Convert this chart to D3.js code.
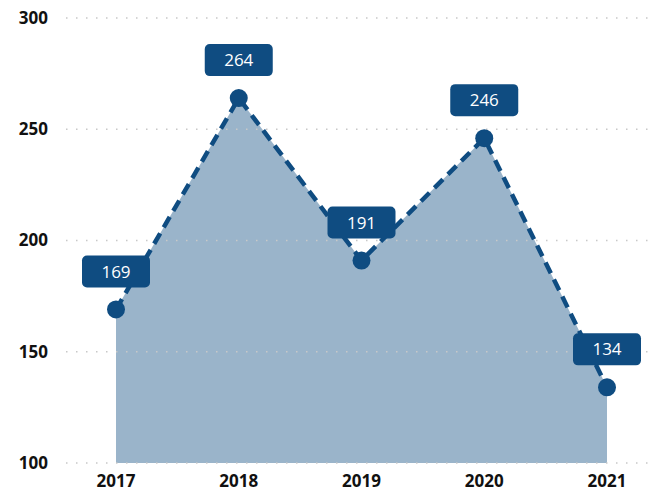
<!DOCTYPE html>
<html lang="en">
<head>
    <meta charset="UTF-8">
    <title>Yearly values</title>
    <script src="https://d3js.org/d3.v7.min.js"></script>
    <style>
        body { margin: 0; background: #fff; }
        .tick-label { font-family: "Open Sans", "Noto Sans", sans-serif; font-weight: bold; font-size: 17px; fill: #111; }
        .val-label { font-family: "Open Sans", "Noto Sans", sans-serif; font-size: 17px; fill: #fff; }
    </style>
</head>
<body>
    <div id="chart"></div>
    <script>
        // data
        const years = ["2017", "2018", "2019", "2020", "2021"];
        const values = [169, 264, 191, 246, 134];
        const yTicks = [100, 150, 200, 250, 300];

        const width = 661, height = 493;
        const blue = "#0f4c81";

        const svg = d3.select("#chart")
            .append("svg")
            .attr("width", width)
            .attr("height", height);

        const x = d3.scalePoint()
            .domain(years)
            .range([116, 607]);

        const y = d3.scaleLinear()
            .domain([100, 300])
            .range([463, 18]);

        const records = years.map((yr, i) => ({ year: yr, value: values[i] }));

        // area under the line
        const area = d3.area()
            .x(d => x(d.year))
            .y0(y(100))
            .y1(d => y(d.value));

        svg.append("path")
            .datum(records)
            .attr("d", area)
            .attr("fill", blue)
            .attr("fill-opacity", 0.42);

        // dotted grid lines
        svg.append("g")
            .selectAll("line")
            .data(yTicks)
            .enter()
            .append("line")
            .attr("x1", 66)
            .attr("x2", 652)
            .attr("y1", d => y(d))
            .attr("y2", d => y(d))
            .attr("stroke", "#c8c8c8")
            .attr("stroke-width", 1.5)
            .attr("stroke-dasharray", "1.5,8.5");

        // y axis labels
        svg.append("g")
            .selectAll("text")
            .data(yTicks)
            .enter()
            .append("text")
            .attr("class", "tick-label")
            .attr("x", 48)
            .attr("y", d => y(d))
            .attr("dy", "0.35em")
            .attr("text-anchor", "end")
            .text(d => d);

        // x axis labels
        svg.append("g")
            .selectAll("text")
            .data(years)
            .enter()
            .append("text")
            .attr("class", "tick-label")
            .attr("x", d => x(d))
            .attr("y", 487)
            .attr("text-anchor", "middle")
            .text(d => d);

        // dashed line
        const line = d3.line()
            .x(d => x(d.year))
            .y(d => y(d.value));

        svg.append("path")
            .datum(records)
            .attr("d", line)
            .attr("fill", "none")
            .attr("stroke", blue)
            .attr("stroke-width", 4.5)
            .attr("stroke-dasharray", "12,7");

        // points
        svg.append("g")
            .selectAll("circle")
            .data(records)
            .enter()
            .append("circle")
            .attr("cx", d => x(d.year))
            .attr("cy", d => y(d.value))
            .attr("r", 9)
            .attr("fill", blue);

        // value labels
        const labels = svg.append("g")
            .selectAll("g")
            .data(records)
            .enter()
            .append("g")
            .attr("transform", d => `translate(${x(d.year)}, ${y(d.value) - 38})`);

        labels.append("rect")
            .attr("x", -34)
            .attr("y", -16)
            .attr("width", 68)
            .attr("height", 32)
            .attr("rx", 5)
            .attr("fill", blue);

        labels.append("text")
            .attr("class", "val-label")
            .attr("text-anchor", "middle")
            .attr("dy", "0.36em")
            .text(d => d.value);
    </script>
</body>
</html>
